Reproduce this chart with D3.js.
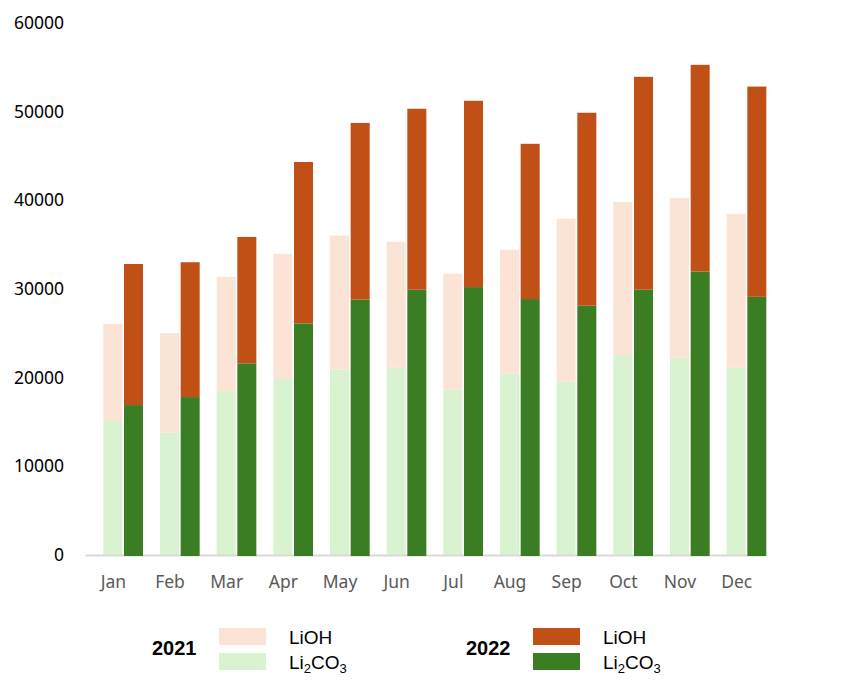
<!DOCTYPE html>
<html>
<head>
<meta charset="utf-8">
<script src="https://cdn.jsdelivr.net/npm/d3@7"></script>
<style>
  body { margin: 0; background: #fff; }
  svg text { font-family: "Noto Sans", sans-serif; }
</style>
</head>
<body>
<svg width="868" height="690"></svg>
<script>
const months = ["Jan", "Feb", "Mar", "Apr", "May", "Jun", "Jul", "Aug", "Sep", "Oct", "Nov", "Dec"];
const yTicks = [0, 10000, 20000, 30000, 40000, 50000, 60000];

// 2021 values
const li2co3_2021 = [15100, 13800, 18500, 19850, 20900, 21100, 18650, 20450, 19550, 22550, 22250, 21100];
const lioh_2021   = [10950, 11200, 12850, 14100, 15100, 14200, 13050, 13950, 18350, 17250, 18000, 17350];
// 2022 values
const li2co3_2022 = [16900, 17800, 21600, 26100, 28800, 29900, 30200, 28850, 28100, 29900, 31950, 29100];
const lioh_2022   = [15900, 15200, 14250, 18200, 19900, 20400, 21000, 17500, 21750, 24000, 23300, 23700];

const colors = {
  lioh21: "#fbe3d6", li2co321: "#d9f2d0",
  lioh22: "#c05016", li2co322: "#3b7d23"
};

const svg = d3.select("svg");

const x = d3.scaleBand().domain(months).range([85, 765]);
const y = d3.scaleLinear().domain([0, 60000]).range([555, 22.7]);
const barW = 19;

const rows = months.map((m, i) => ({
  month: m,
  c21: li2co3_2021[i], h21: lioh_2021[i],
  c22: li2co3_2022[i], h22: lioh_2022[i]
}));

// y axis labels
const yAxis = svg.append("g")
  .attr("transform", "translate(70,0)")
  .call(d3.axisLeft(y).tickValues(yTicks).tickSize(0).tickPadding(6).tickFormat(d3.format("d")));
yAxis.select(".domain").remove();
yAxis.selectAll("text").attr("font-size", 17.5).attr("fill", "#000")
  .style("font-family", "'Noto Sans', sans-serif");

// 2021 stacked bars
const g21 = svg.append("g");
g21.selectAll(".c21").data(rows).enter().append("rect")
  .attr("x", d => x(d.month) + 18.3)
  .attr("width", barW)
  .attr("y", d => y(d.c21))
  .attr("height", d => y(0) - y(d.c21))
  .attr("fill", colors.li2co321);
g21.selectAll(".h21").data(rows).enter().append("rect")
  .attr("x", d => x(d.month) + 18.3)
  .attr("width", barW)
  .attr("y", d => y(d.c21 + d.h21))
  .attr("height", d => y(d.c21) - y(d.c21 + d.h21))
  .attr("fill", colors.lioh21);

// x axis
const xAxis = svg.append("g")
  .attr("transform", `translate(0,${y(0)})`)
  .call(d3.axisBottom(x).tickSize(0).tickPadding(21));
xAxis.select(".domain").attr("stroke", "#d9d9d9").attr("stroke-width", 2);
xAxis.selectAll("text").attr("font-size", 17.5).attr("fill", "#595959")
  .style("font-family", "'Noto Sans', sans-serif");

// 2022 stacked bars
const g22 = svg.append("g");
g22.selectAll(".c22").data(rows).enter().append("rect")
  .attr("x", d => x(d.month) + 39)
  .attr("width", barW)
  .attr("y", d => y(d.c22))
  .attr("height", d => y(0) - y(d.c22) + 1)
  .attr("fill", colors.li2co322);
g22.selectAll(".h22").data(rows).enter().append("rect")
  .attr("x", d => x(d.month) + 39)
  .attr("width", barW)
  .attr("y", d => y(d.c22 + d.h22))
  .attr("height", d => y(d.c22) - y(d.c22 + d.h22))
  .attr("fill", colors.lioh22);

// legend
const legend = [
  { year: "2021", x: 152, top: colors.lioh21, bottom: colors.li2co321 },
  { year: "2022", x: 466, top: colors.lioh22, bottom: colors.li2co322 }
];
legend.forEach(l => {
  const lg = svg.append("g");
  lg.append("text")
    .attr("x", l.x).attr("y", 655)
    .attr("font-size", 20).attr("font-weight", "bold").attr("fill", "#000")
    .style("font-family", "'Liberation Sans', Arial, sans-serif")
    .text(l.year);
  const sx = l.x + 67;
  lg.append("rect").attr("x", sx).attr("y", 628).attr("width", 47).attr("height", 17).attr("fill", l.top);
  lg.append("rect").attr("x", sx).attr("y", 653).attr("width", 47).attr("height", 17).attr("fill", l.bottom);
  lg.append("text")
    .attr("x", sx + 70).attr("y", 644)
    .attr("font-size", 19).attr("fill", "#000")
    .style("font-family", "'Liberation Sans', Arial, sans-serif")
    .text("LiOH");
  const t = lg.append("text")
    .attr("x", sx + 70).attr("y", 669)
    .attr("font-size", 19).attr("fill", "#000")
    .style("font-family", "'Liberation Sans', Arial, sans-serif");
  t.append("tspan").text("Li");
  t.append("tspan").attr("font-size", 13).attr("dy", 4).text("2");
  t.append("tspan").attr("dy", -4).text("CO");
  t.append("tspan").attr("font-size", 13).attr("dy", 4).text("3");
});
</script>
</body>
</html>
